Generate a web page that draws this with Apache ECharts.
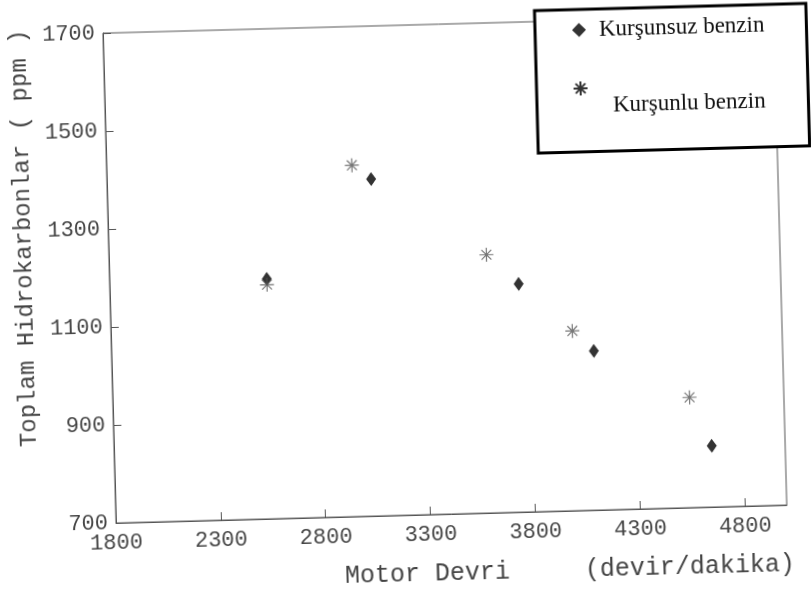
<!DOCTYPE html>
<html>
<head>
<meta charset="utf-8">
<script src="https://cdn.jsdelivr.net/npm/echarts@6/dist/echarts.min.js"></script>
<style>
  html, body { margin: 0; padding: 0; background: #fff; overflow: hidden; width: 811px; height: 598px; }
  /* the scanned original sits a little tilted, so the whole chart is turned with it */
  #main { position: absolute; left: 0; top: 0; width: 840px; height: 610px;
          transform: rotate(-1.53deg); transform-origin: 116px 523px; }
</style>
</head>
<body>
<div id="main"></div>
<script>
// values
var seriesNames = ['Kurşunsuz benzin', 'Kurşunlu benzin'];
var kursunsuzRpm = [2550, 3060, 3750, 4100, 4650];
var kursunsuzHc = [1190, 1388, 1166, 1025, 825];
var kursunluRpm = [2550, 2970, 3600, 4000, 4550];
var kursunluHc = [1178, 1417, 1227, 1067, 925];

var starPath = 'path://M10,0L10,20M0,10L20,10M3,3L17,17M3,17L17,3';

function pairs(xs, ys) {
    let out = [];
    for (let i = 0; i < xs.length; i++) {
        out.push([xs[i], ys[i]]);
    }
    return out;
}

// plain numbers, no thousands separator
function plain(v) {
    return String(v);
}

var axisFont = 'Liberation Mono';
var myChart = echarts.init(document.getElementById('main'));

var option = {
    backgroundColor: '#fff',
    animation: false,
    grid: {
        left: 116,
        top: 33,
        width: 671,
        height: 490,
        show: true,
        borderColor: '#555',
        borderWidth: 1,
        containLabel: false,
        outerBoundsMode: 'none'
    },
    legend: {
        orient: 'vertical',
        left: 548,
        top: 22,
        padding: [9, 42, 34, 36],
        itemGap: 39,
        itemWidth: 14,
        itemHeight: 14,
        backgroundColor: '#fff',
        borderColor: '#000',
        borderWidth: 3,
        borderRadius: 0,
        formatter: function (name) {
            // second entry sits lower and further right than its mark
            return name === seriesNames[1] ? '{low|' + name + '}' : '{hi|' + name + '}';
        },
        textStyle: {
            fontFamily: 'Liberation Serif',
            fontSize: 23,
            color: '#111',
            rich: {
                hi: { fontFamily: 'Liberation Serif', fontSize: 23, color: '#111', padding: [0, 0, 0, 8] },
                low: { fontFamily: 'Liberation Serif', fontSize: 23, color: '#111', padding: [36, 0, 0, 20] }
            }
        },
        data: [
            {
                name: seriesNames[0],
                icon: 'diamond',
                itemStyle: { color: '#000' }
            },
            {
                name: seriesNames[1],
                icon: starPath,
                itemStyle: { color: 'transparent', borderColor: '#000', borderWidth: 2 }
            }
        ]
    },
    xAxis: {
        type: 'value',
        min: 1800,
        max: 5000,
        interval: 500,
        name: 'Motor Devri     (devir/dakika)',
        nameLocation: 'middle',
        nameGap: 47,
        nameTextStyle: {
            fontFamily: axisFont,
            fontSize: 25,
            color: '#444',
            padding: [0, 0, 0, 234]
        },
        splitLine: { show: false },
        axisLine: { lineStyle: { color: '#555', width: 1 } },
        axisTick: { inside: true, length: 8, lineStyle: { color: '#555' } },
        axisLabel: {
            showMaxLabel: false,
            margin: 9,
            formatter: plain,
            fontFamily: axisFont,
            fontSize: 22,
            color: '#444'
        }
    },
    yAxis: {
        type: 'value',
        min: 700,
        max: 1700,
        interval: 200,
        name: 'Toplam Hidrokarbonlar ( ppm )',
        nameLocation: 'middle',
        nameGap: 72,
        nameTextStyle: {
            fontFamily: axisFont,
            fontSize: 24,
            color: '#444',
            padding: [0, 0, 0, 84]
        },
        splitLine: { show: false },
        axisLine: { lineStyle: { color: '#555', width: 1 } },
        axisTick: { inside: true, length: 8, lineStyle: { color: '#555' } },
        axisLabel: {
            margin: 8,
            formatter: plain,
            fontFamily: axisFont,
            fontSize: 22,
            color: '#444'
        }
    },
    series: [
        {
            name: seriesNames[0],
            type: 'scatter',
            symbol: 'diamond',
            symbolSize: [10, 14],
            itemStyle: { color: '#000' },
            data: pairs(kursunsuzRpm, kursunsuzHc)
        },
        {
            name: seriesNames[1],
            type: 'scatter',
            symbol: starPath,
            symbolSize: 14,
            itemStyle: { color: 'transparent', borderColor: '#555', borderWidth: 1.2 },
            data: pairs(kursunluRpm, kursunluHc)
        }
    ]
};

myChart.setOption(option);
</script>
</body>
</html>
